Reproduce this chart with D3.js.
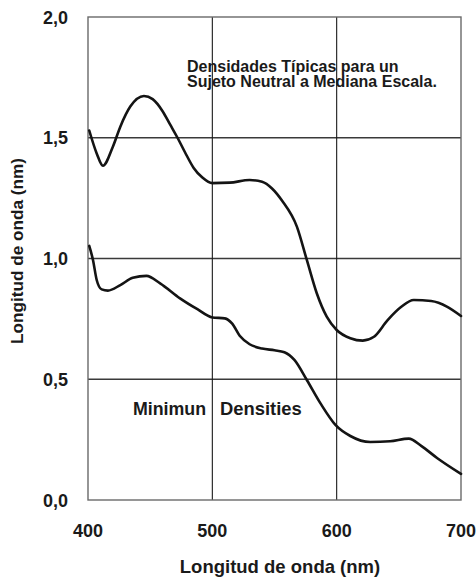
<!DOCTYPE html>
<html>
<head>
<meta charset="utf-8">
<script src="https://cdn.jsdelivr.net/npm/d3@7"></script>
<style>
  html, body { margin: 0; padding: 0; background: #fff; }
  svg { display: block; }
  text { font-family: "Liberation Sans", Arial, sans-serif; font-weight: bold; fill: #1a1a1a; }
</style>
</head>
<body>
<svg id="chart" width="476" height="579"></svg>
<script>
// ---- data ----
const xTicks = [400, 500, 600, 700];
const xTickLabels = ["400", "500", "600", "700"];
const yTicks = [0, 0.5, 1.0, 1.5, 2.0];
const yTickLabels = ["0,0", "0,5", "1,0", "1,5", "2,0"];

const typicalWavelength = [401, 407, 412, 420, 426, 434, 445, 452, 460, 466, 472, 478, 485, 492, 500, 514, 530, 540, 548, 556, 568, 576, 584, 592, 600, 611, 621, 630, 641, 652, 662, 676, 689, 700];
const typicalDensity   = [1.53, 1.435, 1.384, 1.463, 1.546, 1.629, 1.673, 1.66, 1.61, 1.555, 1.50, 1.44, 1.375, 1.335, 1.312, 1.314, 1.325, 1.318, 1.29, 1.24, 1.132, 0.994, 0.856, 0.759, 0.704, 0.670, 0.660, 0.676, 0.745, 0.80, 0.828, 0.824, 0.80, 0.762];

const minimumWavelength = [401, 404, 407, 411, 416, 426, 436, 447, 458, 474, 488, 500, 510, 516, 522, 530, 540, 550, 558, 566, 576, 587, 599, 611, 627, 643, 658, 668, 681, 700];
const minimumDensity   = [1.052, 0.994, 0.911, 0.872, 0.867, 0.89, 0.92, 0.928, 0.897, 0.835, 0.79, 0.756, 0.752, 0.73, 0.68, 0.645, 0.627, 0.62, 0.612, 0.58, 0.497, 0.40, 0.311, 0.265, 0.24, 0.243, 0.254, 0.224, 0.173, 0.108];

const annotationLines = ["Densidades Típicas para un", "Sujeto Neutral a Mediana Escala."];
const minimumLabelA = "Minimun";
const minimumLabelB = "Densities";
const xTitle = "Longitud de onda (nm)";
const yTitle = "Longitud de onda (nm)";

// ---- layout ----
const svg = d3.select("#chart");
const pLeft = 88, pTop = 17, pRight = 461, pBottom = 500;

const x = d3.scaleLinear().domain([400, 700]).range([pLeft, pRight]);
const y = d3.scaleLinear().domain([0, 2]).range([pBottom, pTop]);

// gridlines
const g = svg.append("g");
g.selectAll("line.hgrid").data(yTicks.filter(v => v > 0 && v < 2)).enter().append("line")
  .attr("x1", pLeft).attr("x2", pRight)
  .attr("y1", d => y(d)).attr("y2", d => y(d))
  .attr("stroke", "#3a3a3a").attr("stroke-width", 1.3);
g.selectAll("line.vgrid").data(xTicks.filter(v => v > 400 && v < 700)).enter().append("line")
  .attr("x1", d => x(d)).attr("x2", d => x(d))
  .attr("y1", pTop).attr("y2", pBottom)
  .attr("stroke", "#1a1a1a").attr("stroke-width", 1.1);

// frame
g.append("rect").attr("x", pLeft).attr("y", pTop)
  .attr("width", pRight - pLeft).attr("height", pBottom - pTop)
  .attr("fill", "none").attr("stroke", "#6a6a6a").attr("stroke-width", 1.4);

// curves
const line = d3.line().x(d => x(d[0])).y(d => y(d[1])).curve(d3.curveMonotoneX);
const typical = typicalWavelength.map((w, i) => [w, typicalDensity[i]]);
const minimum = minimumWavelength.map((w, i) => [w, minimumDensity[i]]);
[typical, minimum].forEach(s => {
  svg.append("path").attr("d", line(s))
    .attr("fill", "none").attr("stroke", "#141414").attr("stroke-width", 2.6)
    .attr("stroke-linejoin", "round").attr("stroke-linecap", "round");
});

// tick labels
svg.selectAll("text.ytick").data(yTicks).enter().append("text")
  .attr("x", 68).attr("y", d => y(d) + 6.5)
  .attr("text-anchor", "end").attr("font-size", 18)
  .text((d, i) => yTickLabels[i]);
svg.selectAll("text.xtick").data(xTicks).enter().append("text")
  .attr("x", d => x(d)).attr("y", 537)
  .attr("text-anchor", "middle").attr("font-size", 18)
  .text((d, i) => xTickLabels[i]);

// axis titles
svg.append("text").attr("x", 280).attr("y", 573)
  .attr("text-anchor", "middle").attr("font-size", 18.5).text(xTitle);
svg.append("text").attr("transform", "translate(23,251) rotate(-90)")
  .attr("text-anchor", "middle").attr("font-size", 17.2).text(yTitle);

// annotations
svg.selectAll("text.ann").data(annotationLines).enter().append("text")
  .attr("x", 187).attr("y", (d, i) => 71.7 + i * 15.6)
  .attr("font-size", 16).text(d => d);
svg.append("text").attr("x", 133).attr("y", 414.5).attr("font-size", 17.8).text(minimumLabelA);
svg.append("text").attr("x", 220).attr("y", 414.5).attr("font-size", 18.4).text(minimumLabelB);
</script>
</body>
</html>
